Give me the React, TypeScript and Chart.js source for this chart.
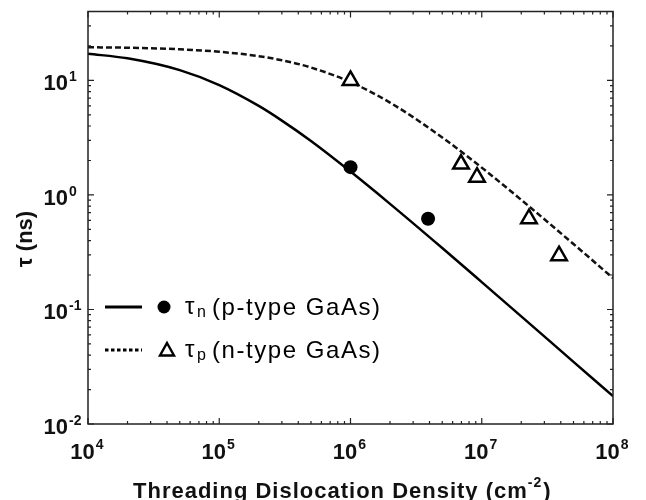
import React, { useEffect, useRef } from 'react';
import { Chart, registerables } from 'chart.js';

Chart.register(...registerables);

// ---- data ----
const curveDensity = [1e4, 2e4, 5e4, 1e5, 2e5, 3e5, 5e5, 1e6, 2e6, 5e6, 1e7, 2e7, 5e7, 1e8];
const tauNCurve = [17.1, 15.6, 12.3, 9.1, 5.99, 4.46, 2.96, 1.6, 0.836, 0.344, 0.1735, 0.0871, 0.0349, 0.0175];
const tauPCurve = [19.5, 19.3, 18.7, 17.8, 16.3, 15.0, 12.97, 9.67, 6.41, 3.18, 1.733, 0.906, 0.373, 0.188];

const tauNPointsX = [1e6, 3.9e6];
const tauNPointsY = [1.75, 0.62];
const tauPPointsX = [1e6, 6.95e6, 9.2e6, 2.29e7, 3.88e7];
const tauPPointsY = [10, 1.86, 1.43, 0.62, 0.295];

const xTickValues = [1e4, 1e5, 1e6, 1e7, 1e8];
const xTickExps = ['4', '5', '6', '7', '8'];
const yTickValues = [0.01, 0.1, 1, 10];
const yTickExps = ['-2', '-1', '0', '1'];

const xTitle = 'Threading Dislocation Density (cm';
const xTitleSup = '-2';
const yTitle = 'τ (ns)';
const legendLabels = [
  { sym: 'τ', sub: 'n', text: '(p-type GaAs)' },
  { sym: 'τ', sub: 'p', text: '(n-type GaAs)' },
];

const FONT = '"Liberation Sans", Arial, Helvetica, sans-serif';

const decorPlugin = {
  id: 'decor',
  afterDraw(chart: any) {
    const ctx: CanvasRenderingContext2D = chart.ctx;
    const { left, right, top, bottom } = chart.chartArea;
    const xs = chart.scales.x;
    const ys = chart.scales.y;
    ctx.save();
    ctx.strokeStyle = '#222';
    ctx.lineWidth = 1.5;
    ctx.strokeRect(left, top, right - left, bottom - top);

    // x ticks (inward, top and bottom)
    ctx.lineWidth = 1.2;
    for (let d = 4; d <= 8; d++) {
      for (let m = 1; m <= 9; m++) {
        const v = m * Math.pow(10, d);
        if (v > 1e8 * 1.0001) break;
        const x = xs.getPixelForValue(v);
        const len = m === 1 ? 6 : 3;
        ctx.beginPath();
        ctx.moveTo(x, bottom);
        ctx.lineTo(x, bottom - len);
        ctx.moveTo(x, top);
        ctx.lineTo(x, top + len);
        ctx.stroke();
      }
    }
    // y ticks
    for (let d = -2; d <= 1; d++) {
      for (let m = 1; m <= 9; m++) {
        const v = m * Math.pow(10, d);
        if (v > ys.max) break;
        const y = ys.getPixelForValue(v);
        const len = m === 1 ? 6 : 3;
        ctx.beginPath();
        ctx.moveTo(left, y);
        ctx.lineTo(left + len, y);
        ctx.moveTo(right, y);
        ctx.lineTo(right - len, y);
        ctx.stroke();
      }
    }

    ctx.fillStyle = '#111';
    // y tick labels
    yTickValues.forEach((v, i) => {
      const y = ys.getPixelForValue(v);
      ctx.font = `bold 22px ${FONT}`;
      ctx.textAlign = 'right';
      ctx.textBaseline = 'alphabetic';
      ctx.fillText('10', 68, y + 10);
      ctx.font = `bold 14px ${FONT}`;
      ctx.textAlign = 'left';
      ctx.fillText(yTickExps[i], 69, y + 1);
    });
    // x tick labels
    xTickValues.forEach((v, i) => {
      const x = xs.getPixelForValue(v);
      ctx.font = `bold 22px ${FONT}`;
      const w1 = ctx.measureText('10').width;
      ctx.font = `bold 14px ${FONT}`;
      const w2 = ctx.measureText(xTickExps[i]).width;
      const start = x - (w1 + w2 + 1) / 2 - 1;
      ctx.textAlign = 'left';
      ctx.font = `bold 22px ${FONT}`;
      ctx.fillText('10', start, 459);
      ctx.font = `bold 14px ${FONT}`;
      ctx.fillText(xTickExps[i], start + w1 + 1, 449);
    });

    // x title
    ctx.font = `bold 22px ${FONT}`;
    (ctx as any).letterSpacing = '1px';
    ctx.textAlign = 'left';
    const tw = ctx.measureText(xTitle).width;
    const tx = 133;
    ctx.fillText(xTitle, tx, 498);
    ctx.font = `bold 14px ${FONT}`;
    const sw = ctx.measureText(xTitleSup).width;
    ctx.fillText(xTitleSup, tx + tw, 487);
    ctx.font = `bold 22px ${FONT}`;
    ctx.fillText(')', tx + tw + sw + 1, 498);
    (ctx as any).letterSpacing = '0px';

    // y title
    ctx.save();
    ctx.translate(32, 239);
    ctx.rotate(-Math.PI / 2);
    ctx.font = `bold 22px ${FONT}`;
    ctx.textAlign = 'center';
    ctx.textBaseline = 'alphabetic';
    ctx.fillText(yTitle, 0, 0);
    ctx.restore();

    // legend
    const rows = [307, 350];
    ctx.strokeStyle = '#000';
    ctx.fillStyle = '#000';
    // row 1: solid line + filled circle
    ctx.lineWidth = 3;
    ctx.setLineDash([]);
    ctx.beginPath();
    ctx.moveTo(105, rows[0]);
    ctx.lineTo(142, rows[0]);
    ctx.stroke();
    ctx.beginPath();
    ctx.arc(164, rows[0], 6.5, 0, Math.PI * 2);
    ctx.fill();
    // row 2: dotted line + hollow triangle
    ctx.setLineDash([3.5, 2.5]);
    ctx.beginPath();
    ctx.moveTo(105, rows[1]);
    ctx.lineTo(142, rows[1]);
    ctx.stroke();
    ctx.setLineDash([]);
    ctx.lineWidth = 2.4;
    ctx.beginPath();
    ctx.moveTo(167, rows[1] - 7);
    ctx.lineTo(174, rows[1] + 5.5);
    ctx.lineTo(160, rows[1] + 5.5);
    ctx.closePath();
    ctx.stroke();

    legendLabels.forEach((l, i) => {
      const y = rows[i];
      ctx.textAlign = 'left';
      ctx.font = `24px ${FONT}`;
      ctx.fillText(l.sym, 185, y + 7);
      ctx.font = `16px ${FONT}`;
      ctx.fillText(l.sub, 197, y + 10);
      ctx.font = `24px ${FONT}`;
      (ctx as any).letterSpacing = '0px';
      const w = ctx.measureText(l.text).width;
      const ls = Math.max(0, (168 - w) / (l.text.length - 1));
      (ctx as any).letterSpacing = `${ls}px`;
      ctx.fillText(l.text, 212, y + 8);
      (ctx as any).letterSpacing = '0px';
    });

    ctx.restore();
  },
};

export default function App() {
  const ref = useRef<HTMLCanvasElement | null>(null);
  useEffect(() => {
    document.body.style.margin = '0';
    const canvas = ref.current;
    if (!canvas) return;
    const toPts = (xs: number[], ys: number[]) => xs.map((x, i) => ({ x, y: ys[i] }));
    const chart = new Chart(canvas, {
      type: 'scatter',
      data: {
        datasets: [
          {
            label: 'τn points',
            data: toPts(tauNPointsX, tauNPointsY),
            pointStyle: 'circle',
            pointRadius: 7,
            backgroundColor: '#000',
            borderColor: '#000',
            borderWidth: 0,
            showLine: false,
          },
          {
            label: 'τp points',
            data: toPts(tauPPointsX, tauPPointsY),
            pointStyle: 'triangle',
            pointRadius: 9,
            backgroundColor: '#fff',
            borderColor: '#000',
            borderWidth: 2.5,
            showLine: false,
          },
          {
            label: 'τn curve',
            data: toPts(curveDensity, tauNCurve),
            showLine: true,
            pointRadius: 0,
            borderColor: '#000',
            borderWidth: 2.5,
            cubicInterpolationMode: 'monotone',
          },
          {
            label: 'τp curve',
            data: toPts(curveDensity, tauPCurve),
            showLine: true,
            pointRadius: 0,
            borderColor: '#111',
            borderWidth: 2.5,
            borderDash: [6, 3],
            cubicInterpolationMode: 'monotone',
          },
        ],
      } as any,
      options: {
        animation: false,
        responsive: false,
        devicePixelRatio: 1,
        layout: { padding: { top: 10, right: 33, left: 0, bottom: 0 } },
        plugins: { legend: { display: false }, tooltip: { enabled: false } },
        scales: {
          x: {
            type: 'logarithmic',
            min: 1e4,
            max: 1e8,
            ticks: { display: false },
            grid: { display: false },
            border: { display: false },
            afterFit: (s: any) => {
              s.height = 76;
            },
          },
          y: {
            type: 'logarithmic',
            min: 0.01,
            max: 40,
            ticks: { display: false },
            grid: { display: false },
            border: { display: false },
            afterFit: (s: any) => {
              s.width = 88;
            },
          },
        },
      } as any,
      plugins: [decorPlugin],
    });
    return () => chart.destroy();
  }, []);
  return <canvas ref={ref} width={646} height={500} style={{ display: 'block' }} />;
}
